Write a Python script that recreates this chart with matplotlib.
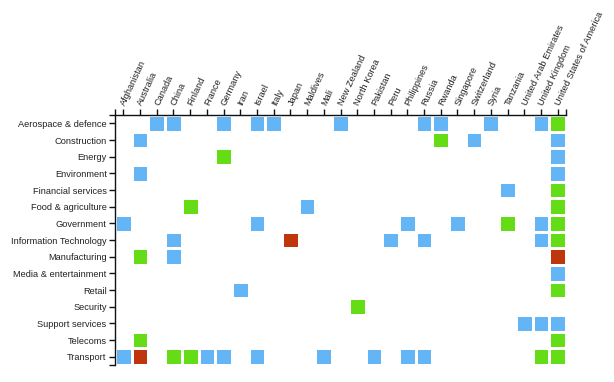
import numpy as np
import matplotlib
matplotlib.use("Agg")
import matplotlib.pyplot as plt
from matplotlib.colors import ListedColormap

plt.rcParams['font.family'] = ['Liberation Sans', 'DejaVu Sans']

countries = ["Afghanistan", "Australia", "Canada", "China", "Finland", "France", "Germany",
             "Iran", "Israel", "Italy", "Japan", "Maldives", "Mali", "New Zealand",
             "North Korea", "Pakistan", "Peru", "Philippines", "Russia", "Rwanda",
             "Singapore", "Switzerland", "Syria", "Tanzania", "United Arab Emirates",
             "United Kingdom", "United States of America"]

sectors = ["Aerospace & defence", "Construction", "Energy", "Environment",
           "Financial services", "Food & agriculture", "Government",
           "Information Technology", "Manufacturing", "Media & entertainment",
           "Retail", "Security", "Support services", "Telecoms", "Transport"]

# status codes per sector (one char per country): . = none, b = blue, g = green, r = red
status_rows = [
    "..bb..b.bb...b....bb..b..bg",  # Aerospace & defence
    ".b.................g.b....b",  # Construction
    "......g...................b",  # Energy
    ".b........................b",  # Environment
    ".......................b..g",  # Financial services
    "....g......b..............g",  # Food & agriculture
    "b.......b........b..b..g.bg",  # Government
    "...b......r.....b.b......bg",  # Information Technology
    ".g.b......................r",  # Manufacturing
    "..........................b",  # Media & entertainment
    ".......b..................g",  # Retail
    "..............g............",  # Security
    "........................bbb",  # Support services
    ".g........................g",  # Telecoms
    "br.ggbb.b...b..b.bb......gg",  # Transport
]

code_map = {".": 0, "b": 1, "g": 2, "r": 3}
grid = np.array([[code_map[c] for c in row] for row in status_rows], dtype=float)
colors = ["#64B5F6", "#64DD17", "#BF360C"]

fig = plt.figure(figsize=(6.14, 3.82), dpi=100)
ax = fig.add_axes([115 / 614, 17 / 382, 451 / 614, 250 / 382])

masked = np.ma.masked_equal(grid, 0)
ax.pcolormesh(np.arange(len(countries) + 1), np.arange(len(sectors) + 1), masked,
              cmap=ListedColormap(colors), vmin=0.5, vmax=3.5,
              edgecolors="white", linewidth=0.9)

ax.set_xlim(0, len(countries))
ax.set_ylim(len(sectors), 0)

for s in ["right", "bottom"]:
    ax.spines[s].set_visible(False)
for s in ["left", "top"]:
    ax.spines[s].set_color("#111111")
    ax.spines[s].set_linewidth(1.0)

fs = 6.7
ax.xaxis.set_ticks_position("top")
ax.xaxis.set_label_position("top")
ax.set_xticks(np.arange(len(countries)) + 0.5)
ax.set_xticklabels(countries, rotation=65, ha="left", va="center",
                   rotation_mode="anchor", fontsize=fs, color="#222222")
ax.set_yticks(np.arange(len(sectors)) + 0.5)
ax.set_yticklabels(sectors, fontsize=fs, color="#222222")
ax.set_xticks([0, len(countries)], minor=True)
ax.set_yticks([0, len(sectors)], minor=True)
ax.tick_params(axis="both", which="both", length=4, width=1, color="#111111", pad=2)
ax.tick_params(axis="x", which="major", pad=3)
ax.tick_params(axis="y", which="major", pad=2)

fig.savefig("out.png", dpi=100)
